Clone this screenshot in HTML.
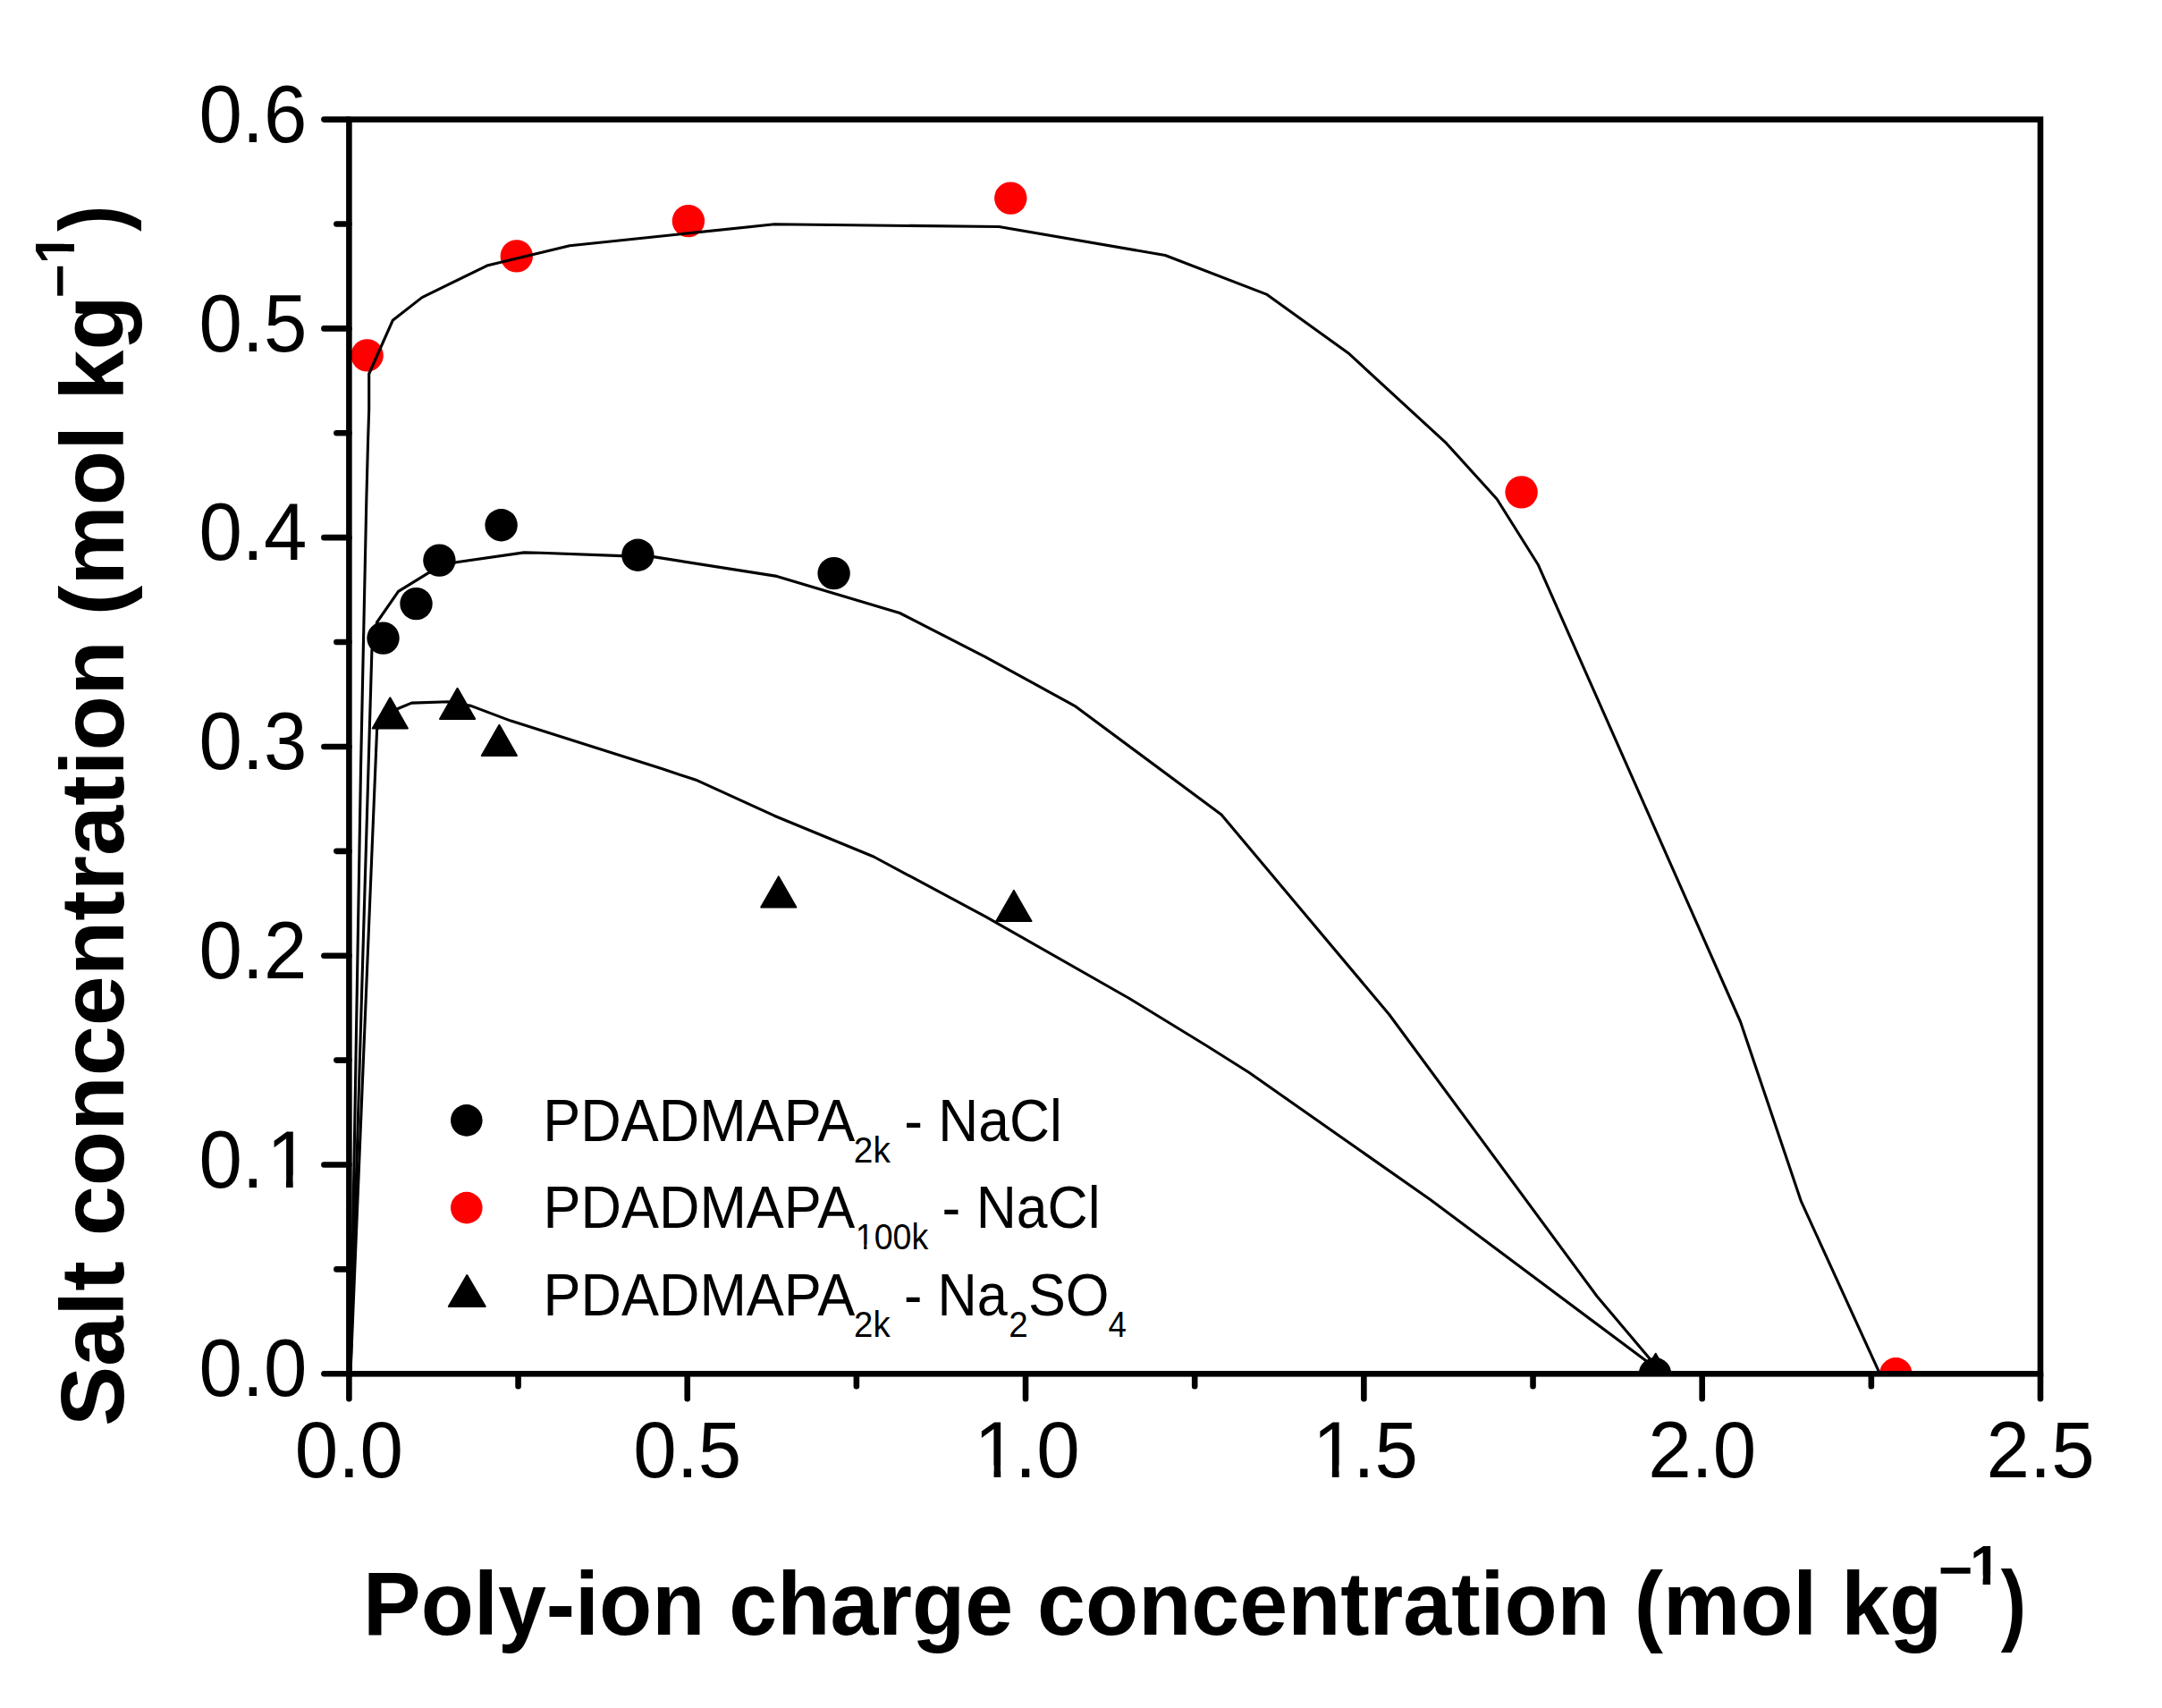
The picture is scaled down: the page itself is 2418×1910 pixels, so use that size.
<!DOCTYPE html><html><head><meta charset="utf-8"><title>Salt concentration vs poly-ion charge concentration</title><style>html,body{margin:0;padding:0;background:#fff;}svg{display:block;}text{font-family:"Liberation Sans",Arial,sans-serif;fill:#000;}</style></head><body>
<svg width="2418" height="1910" viewBox="0 0 2418 1910">
<defs><clipPath id="pa"><rect x="390.4" y="133.6" width="1891.6" height="1402.7"/></clipPath><clipPath id="c1_1"><path clip-rule="evenodd" d="M-5000,-5000H5000V5000H-5000ZM80.22,-13.02H98.65V2.58H80.22ZM106.43,-13.02H124.18V2.58H106.43Z"/></clipPath><clipPath id="c1_2"><path clip-rule="evenodd" d="M-5000,-5000H5000V5000H-5000ZM6.83,-13.02H25.26V2.58H6.83ZM33.04,-13.02H50.78V2.58H33.04Z"/></clipPath><clipPath id="c1_3"><path clip-rule="evenodd" d="M-5000,-5000H5000V5000H-5000ZM6.83,-13.02H25.26V2.58H6.83ZM33.04,-13.02H50.78V2.58H33.04Z"/></clipPath><clipPath id="c1_4"><path clip-rule="evenodd" d="M-5000,-5000H5000V5000H-5000ZM1.73,-10.52H14.00V1.76H1.73ZM22.24,-10.52H33.75V1.76H22.24Z"/></clipPath><clipPath id="c1_5"><path clip-rule="evenodd" d="M-5000,-5000H5000V5000H-5000ZM1.73,-10.52H14.00V1.76H1.73ZM22.24,-10.52H33.75V1.76H22.24Z"/></clipPath><clipPath id="c1_6"><path clip-rule="evenodd" d="M-5000,-5000H5000V5000H-5000ZM1.64,-5.77H9.81V1.14H1.64ZM13.25,-5.77H21.12V1.14H13.25Z"/></clipPath></defs>
<rect width="2418" height="1910" fill="#fff"/>
<g clip-path="url(#pa)">
<circle cx="428.5" cy="713.6" r="18.2" fill="#000"/>
<circle cx="465.5" cy="675.1" r="18.2" fill="#000"/>
<circle cx="491.4" cy="626.6" r="18.2" fill="#000"/>
<circle cx="560.6" cy="587.2" r="18.2" fill="#000"/>
<circle cx="713.4" cy="620.7" r="18.2" fill="#000"/>
<circle cx="932.6" cy="641.1" r="18.2" fill="#000"/>
<circle cx="1851" cy="1536.3" r="18.2" fill="#000"/>
<circle cx="410.6" cy="397.4" r="18.2" fill="#f00"/>
<circle cx="577.8" cy="286.4" r="18.2" fill="#f00"/>
<circle cx="769.9" cy="247.1" r="18.2" fill="#f00"/>
<circle cx="1130.3" cy="221.6" r="18.2" fill="#f00"/>
<circle cx="1701.6" cy="550.4" r="18.2" fill="#f00"/>
<circle cx="2120.3" cy="1536.3" r="18.2" fill="#f00"/>
<polygon points="436.30,780.30 455.87,814.50 416.73,814.50" fill="#000" stroke="#000" stroke-width="2" stroke-linejoin="round"/>
<polygon points="511.60,769.80 531.17,804.00 492.03,804.00" fill="#000" stroke="#000" stroke-width="2" stroke-linejoin="round"/>
<polygon points="558.40,810.80 577.97,845.00 538.83,845.00" fill="#000" stroke="#000" stroke-width="2" stroke-linejoin="round"/>
<polygon points="870.80,980.40 890.37,1014.60 851.23,1014.60" fill="#000" stroke="#000" stroke-width="2" stroke-linejoin="round"/>
<polygon points="1133.90,995.90 1153.47,1030.10 1114.33,1030.10" fill="#000" stroke="#000" stroke-width="2" stroke-linejoin="round"/>
<polygon points="1851.70,1513.70 1871.27,1547.90 1832.13,1547.90" fill="#000" stroke="#000" stroke-width="2" stroke-linejoin="round"/>
</g>
<g clip-path="url(#pa)" fill="none" stroke="#000" stroke-width="3.1" stroke-linejoin="round">
<polyline points="392.0,1536.3 403.5,860.0 409.8,560.0 411.5,495.3 412.7,457.9 412.7,418.0 439.2,358.3 472.0,332.6 545.7,296.7 637.1,274.7 866.0,250.8 1117.2,253.5 1303.2,285.5 1417.1,329.4 1507.8,394.7 1617.6,495.7 1674.1,558.0 1720.1,631.2 1946.5,1142.5 2014.5,1343.7 2102.5,1536.3"/>
<polyline points="392.0,1536.3 415.9,727.4 421.5,696.0 445.5,661.4 478.8,640.9 510.3,628.8 586.1,617.9 604.6,618.3 695.3,621.6 732.3,622.9 868.8,644.4 1006.2,685.5 1102.0,734.6 1201.9,789.3 1366.0,911.0 1553.7,1134.5 1786.0,1449.5 1846.0,1520.5 1851.0,1536.3"/>
<polyline points="392.0,1536.3 421.6,815.3 445.5,792.2 460.3,786.1 501.0,784.8 526.9,789.4 571.3,806.1 741.5,860.1 780.0,872.8 866.0,912.2 977.1,958.0 1102.0,1024.9 1263.0,1116.5 1350.0,1169.7 1396.8,1199.3 1600.0,1341.8 1846.0,1525.5 1851.0,1536.3"/>
</g>
<rect x="390.4" y="133.6" width="1891.6" height="1402.7" fill="none" stroke="#000" stroke-width="6.6"/>
<path d="M390.4,1536.30H362.4M390.4,1419.41H376.4M390.4,1302.52H362.4M390.4,1185.62H376.4M390.4,1068.73H362.4M390.4,951.84H376.4M390.4,834.95H362.4M390.4,718.06H376.4M390.4,601.17H362.4M390.4,484.27H376.4M390.4,367.38H362.4M390.4,250.49H376.4M390.4,133.60H362.4M390.40,1536.3V1564.3M579.56,1536.3V1550.3M768.72,1536.3V1564.3M957.88,1536.3V1550.3M1147.04,1536.3V1564.3M1336.20,1536.3V1550.3M1525.36,1536.3V1564.3M1714.52,1536.3V1550.3M1903.68,1536.3V1564.3M2092.84,1536.3V1550.3M2282.00,1536.3V1564.3" stroke="#000" stroke-width="6.6" stroke-linecap="round" fill="none"/>
<text transform="translate(222.48,1561.47) scale(0.9887,1.0290)" font-size="88">0.0</text>
<text transform="translate(222.48,1327.69) scale(0.9887,1.0290)" font-size="88" clip-path="url(#c1_1)">0.<tspan dx="3.14">1</tspan></text>
<text transform="translate(222.48,1093.90) scale(0.9887,1.0290)" font-size="88">0.2</text>
<text transform="translate(222.48,860.12) scale(0.9887,1.0290)" font-size="88">0.3</text>
<text transform="translate(222.48,626.34) scale(0.9887,1.0290)" font-size="88">0.4</text>
<text transform="translate(222.48,392.55) scale(0.9887,1.0290)" font-size="88">0.5</text>
<text transform="translate(222.48,158.77) scale(0.9887,1.0290)" font-size="88">0.6</text>
<text transform="translate(329.87,1651.68) scale(0.9905,1.0210)" font-size="88">0.0</text>
<text transform="translate(708.19,1651.68) scale(0.9905,1.0210)" font-size="88">0.5</text>
<text transform="translate(1086.51,1651.68) scale(0.9905,1.0210)" font-size="88" clip-path="url(#c1_2)"><tspan dx="3.13">1</tspan><tspan dx="-3.13">.0</tspan></text>
<text transform="translate(1464.83,1651.68) scale(0.9905,1.0210)" font-size="88" clip-path="url(#c1_3)"><tspan dx="3.13">1</tspan><tspan dx="-3.13">.5</tspan></text>
<text transform="translate(1843.15,1651.68) scale(0.9905,1.0210)" font-size="88">2.0</text>
<text transform="translate(2221.47,1651.68) scale(0.9905,1.0210)" font-size="88">2.5</text>
<text transform="translate(406.12,1827.50) scale(0.9597,1.0000)" font-size="101" font-weight="bold">Poly-ion charge concentration (mol kg</text>
<text transform="translate(2167.72,1776.94) scale(1.1010,1.0389)" font-size="60" font-weight="bold">−</text>
<text transform="translate(2203.17,1772.30) scale(1.0312,1.0514)" font-size="60" font-weight="bold" clip-path="url(#c1_4)">1</text>
<text transform="translate(2237.85,1827.19) scale(0.8453,0.9862)" font-size="101" font-weight="bold">)</text>
<text transform="translate(138.20,1595.07) rotate(-90) scale(0.9975,1.0000)" font-size="101" font-weight="bold">Salt concentration (mol kg</text>
<text transform="translate(86.53,333.47) rotate(-90) scale(1.0944,0.9778)" font-size="60" font-weight="bold">−</text>
<text transform="translate(83.00,295.34) rotate(-90) scale(1.0091,1.0393)" font-size="60" font-weight="bold" clip-path="url(#c1_5)">1</text>
<text transform="translate(137.08,258.76) rotate(-90) scale(0.8648,0.9819)" font-size="101" font-weight="bold">)</text>
<text transform="translate(607.32,1275.70) scale(0.9845,1.0289)" font-size="64">PDADMAPA</text>
<text transform="translate(954.84,1300.10) scale(0.9962,1.0289)" font-size="39">2k</text>
<text transform="translate(1011.33,1275.70) scale(0.9734,1.0289)" font-size="64">- NaCl</text>
<text transform="translate(607.42,1373.10) scale(0.9842,1.0289)" font-size="64">PDADMAPA</text>
<text transform="translate(956.74,1397.20) scale(0.9631,1.0289)" font-size="39" clip-path="url(#c1_6)">100k</text>
<text transform="translate(1053.52,1373.10) scale(0.9763,1.0289)" font-size="64">- NaCl</text>
<text transform="translate(607.42,1470.70) scale(0.9842,1.0289)" font-size="64">PDADMAPA</text>
<text transform="translate(955.06,1495.00) scale(0.9833,1.0289)" font-size="39">2k</text>
<text transform="translate(1011.08,1470.70) scale(0.9561,1.0289)" font-size="64">- Na</text>
<text transform="translate(1128.35,1495.00) scale(0.9916,1.0289)" font-size="39">2</text>
<text transform="translate(1150.00,1470.70) scale(0.9808,1.0289)" font-size="64">SO</text>
<text transform="translate(1239.56,1495.00) scale(0.9416,1.0289)" font-size="39">4</text>
<circle cx="521.8" cy="1252.9" r="17.8" fill="#000"/>
<circle cx="521.8" cy="1350.6" r="17.8" fill="#f00"/>
<polygon points="522.30,1426.00 542.77,1461.00 501.83,1461.00" fill="#000" stroke="#000" stroke-width="2" stroke-linejoin="round"/>
</svg></body></html>
